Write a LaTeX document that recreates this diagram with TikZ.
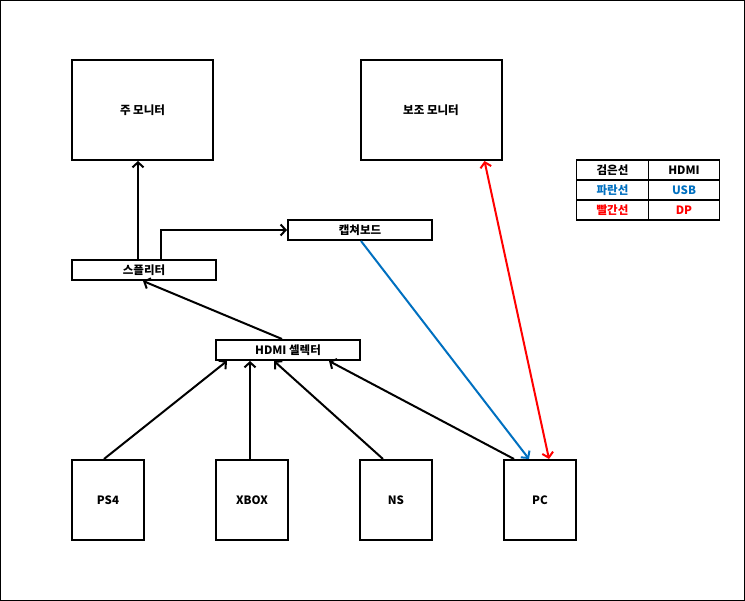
\documentclass[tikz,border=0pt]{standalone}
\usepackage{fontspec}
\setmainfont{Noto Sans CJK KR}
\usepackage{tikz}
\usetikzlibrary{arrows.meta,calc}
\definecolor{usbblue}{HTML}{0070C0}
\definecolor{dpred}{HTML}{FF0000}

\begin{document}
\begin{tikzpicture}[
  x=1pt, y=-1pt,
  font=\fontsize{11.5}{13}\selectfont\bfseries,
  monbox/.style={draw, line width=2pt, minimum width=141pt, minimum height=100pt, inner sep=0pt},
  devbox/.style={draw, line width=2pt, minimum width=72pt, minimum height=80pt, inner sep=0pt},
  barbox/.style={draw, line width=2pt, minimum width=144pt, minimum height=20pt, inner sep=0pt},
  cell/.style={draw, line width=1.3pt, minimum width=71.5pt, minimum height=20pt, inner sep=0pt, font=\fontsize{11.5}{13}\selectfont\bfseries},
  hdmi/.style={-{Straight Barb[length=5pt,width=11pt]}, line width=2pt},
  usb/.style={-{Straight Barb[length=5pt,width=11pt]}, line width=2pt, draw=usbblue},
  dp/.style={{Straight Barb[length=5pt,width=11pt]}-{Straight Barb[length=5pt,width=11pt]}, line width=2pt, draw=dpred}
]
\useasboundingbox (0,0) rectangle (745,601);
\draw[line width=1.2pt] (0.6,0.6) rectangle (744.4,600.4);

% ================= Monitors =================
\node[monbox] (mainmon) at (142.5,110) {주 모니터};
\node[monbox] (submon) at (431,110) {보조 모니터};

% ================= Splitter / capture =================
\node[barbox] (capture) at (360,230) {캡쳐보드};
\node[barbox] (split) at (144,270) {스플리터};
\node[barbox] (selector) at (288,350) {HDMI 셀렉터};

% ================= Devices =================
\node[devbox] (ps4) at (108,500) {PS4};
\node[devbox] (xbox) at (252,500) {XBOX};
\node[devbox] (ns) at (396,500) {NS};
\node[devbox] (pc) at (540,500) {PC};

% ================= Legend =================
\node[cell] (k1) at (612.5,170) {검은선};
\node[cell] (v1) at (684,170) {HDMI};
\node[cell, text=usbblue] (k2) at (612.5,190) {파란선};
\node[cell, text=usbblue] (v2) at (684,190) {USB};
\node[cell, text=dpred] (k3) at (612.5,210) {빨간선};
\node[cell, text=dpred] (v3) at (684,210) {DP};

% ================= HDMI =================
\draw[hdmi] ($(split.north west)+(67,0)$) -- ($(mainmon.south west)+(67,0)$);
\draw[hdmi] ($(split.north west)+(90,0)$) |- (capture.west);
\draw[hdmi] ($(selector.north west)+(67,0)$) -- ($(split.south west)+(72,0)$);
\draw[hdmi] ($(ps4.north west)+(33,0)$) -- ($(selector.south west)+(12,0)$);
\draw[hdmi] ($(xbox.north west)+(35,0)$) -- ($(selector.south west)+(35,0)$);
\draw[hdmi] ($(ns.north west)+(24,0)$) -- ($(selector.south west)+(59,0)$);
\draw[hdmi] ($(pc.north west)+(11,0)$) -- ($(selector.south west)+(114,0)$);

% ================= USB / DP =================
\draw[usb] ($(capture.south west)+(74,0)$) -- ($(pc.north west)+(26,0)$);
\draw[dp] ($(submon.south west)+(125,0)$) -- ($(pc.north west)+(46,0)$);

\end{tikzpicture}
\end{document}
